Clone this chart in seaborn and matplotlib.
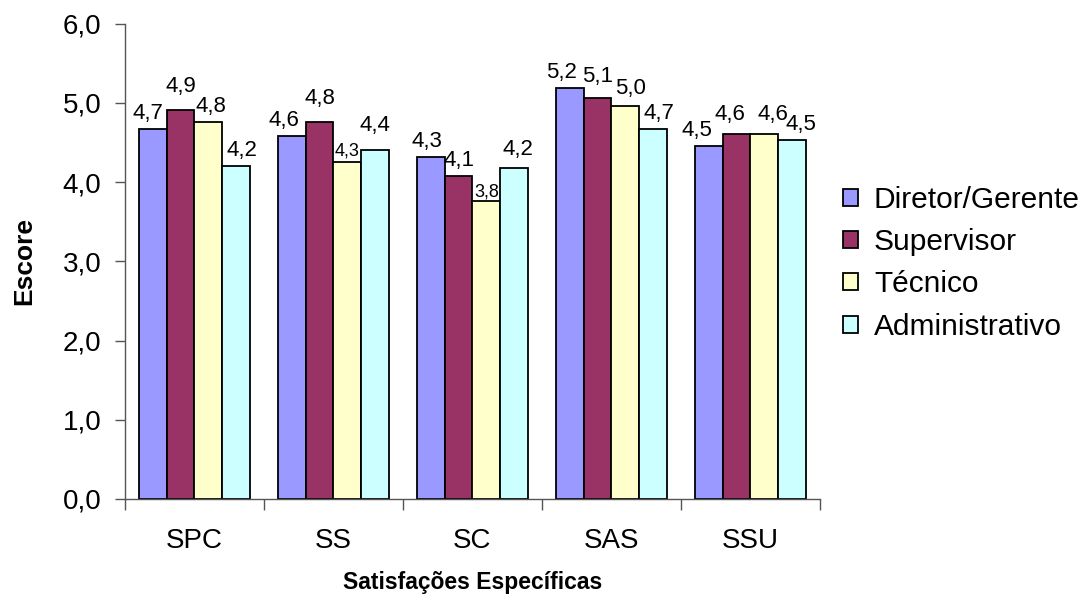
import matplotlib
matplotlib.use("Agg")
import matplotlib.pyplot as plt
import seaborn as sns
import pandas as pd
from matplotlib.ticker import FuncFormatter, FixedLocator

categorias = ["SPC", "SS", "SC", "SAS", "SSU"]
grupos = ["Diretor/Gerente", "Supervisor", "Técnico", "Administrativo"]
diretor = [4.67, 4.58, 4.32, 5.19, 4.46]
supervisor = [4.91, 4.76, 4.08, 5.06, 4.61]
tecnico = [4.76, 4.26, 3.76, 4.96, 4.61]
administrativo = [4.21, 4.41, 4.18, 4.67, 4.53]
cores = ["#9999FF", "#993366", "#FFFFCC", "#CCFFFF"]

series = [diretor, supervisor, tecnico, administrativo]
df = pd.DataFrame(
    [(c, g, v) for g, vals in zip(grupos, series) for c, v in zip(categorias, vals)],
    columns=["Categoria", "Grupo", "Escore"],
)

# nudges (in points) that keep neighbouring value labels apart
desloc_x = [
    [-3.6, -5.8, -3.0, -5.8, -8.6],
    [0.0, 0.0, 0.0, 0.0, -5.0],
    [2.0, 0.0, 0.0, 3.6, 6.5],
    [4.3, 0.0, 2.5, 4.3, 6.5],
]
desloc_y = [
    [0.0, 0.0, 0.0, 0.0, 0.0],
    [5.8, 5.8, 0.0, 4.3, 3.0],
    [0.0, -2.0, -3.0, 1.4, 3.0],
    [0.0, 6.5, 2.0, 0.0, 0.0],
]
pequenos = {(2, 1), (2, 2)}

sns.set_theme(style="ticks")
plt.rcParams["font.family"] = ["Liberation Sans", "DejaVu Sans"]
plt.rcParams["text.color"] = "black"
plt.rcParams["xtick.labelcolor"] = "black"
plt.rcParams["ytick.labelcolor"] = "black"
plt.rcParams["axes.labelcolor"] = "black"

fig = plt.figure(figsize=(10.83, 5.94), dpi=100)
ax = fig.add_axes([0.1154, 0.16, 0.6416, 0.80])

sns.barplot(
    data=df, x="Categoria", y="Escore", hue="Grupo",
    order=categorias, hue_order=grupos, palette=cores,
    width=0.8, edgecolor="black", linewidth=1.3, saturation=1, ax=ax,
)

virgula = lambda v: f"{v:.1f}".replace(".", ",")
pad = 3.5
for h, cont in enumerate(ax.containers):
    anns = ax.bar_label(cont, labels=[virgula(b.get_height()) for b in cont],
                        padding=pad, fontsize=16, color="black")
    for c, ann in enumerate(anns):
        ann.xyann = (desloc_x[h][c], pad + desloc_y[h][c])
        if (h, c) in pequenos:
            ann.set_fontsize(13)

ax.set_ylim(0, 6)
ax.set_xlim(-0.5, len(categorias) - 0.5)
ax.set_yticks([0, 1, 2, 3, 4, 5, 6])
ax.yaxis.set_major_formatter(FuncFormatter(lambda v, p: f"{v:.1f}".replace(".", ",")))
ax.xaxis.set_minor_locator(FixedLocator([i - 0.5 for i in range(len(categorias) + 1)]))
ax.tick_params(axis="x", which="major", length=0, pad=21, labelsize=20)
ax.tick_params(axis="x", which="minor", length=8, width=1, color="#555555", direction="out")
ax.tick_params(axis="y", length=7, width=1, color="#555555", pad=10, labelsize=20, direction="out")

for s in ("top", "right"):
    ax.spines[s].set_visible(False)
for s in ("left", "bottom"):
    ax.spines[s].set_color("#555555")
    ax.spines[s].set_linewidth(1)

ax.set_xlabel("Satisfações Específicas", fontsize=16.5, fontweight="bold", labelpad=12)
ax.set_ylabel("Escore", fontsize=19, fontweight="bold", labelpad=19)

handles, labels = ax.get_legend_handles_labels()
ax.legend(handles, labels, loc="center left", bbox_to_anchor=(0.778, 0.557),
          bbox_transform=fig.transFigure, frameon=False, fontsize=21.5,
          handlelength=0.5, handleheight=0.5, handletextpad=0.55,
          labelspacing=0.48, borderaxespad=0, borderpad=0)

fig.savefig("out.png", dpi=100, facecolor="white")
